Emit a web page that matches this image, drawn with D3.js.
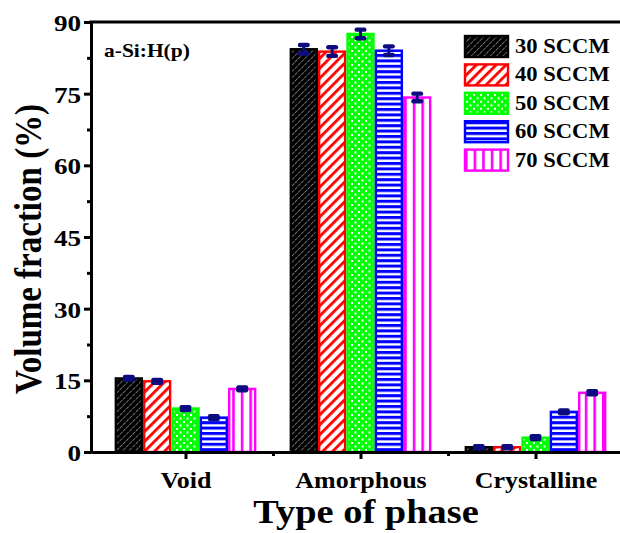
<!DOCTYPE html>
<html>
<head>
<meta charset="utf-8">
<script src="https://cdn.jsdelivr.net/npm/d3@7"></script>
<style>
  html, body { margin: 0; padding: 0; background: #fff; }
  svg { display: block; }
  text { font-family: "Liberation Serif", "Times New Roman", serif; font-weight: bold; fill: #000; }
</style>
</head>
<body>
<svg id="chart" width="620" height="533"></svg>
<script>
// Phase volume fractions of a-Si:H(p) films at several gas flow rates
const phases = ["Void", "Amorphous", "Crystalline"];
const flows = ["30 SCCM", "40 SCCM", "50 SCCM", "60 SCCM", "70 SCCM"];
const flow30 = [15.4, 84.3, 1.0];
const flow40 = [14.8, 83.8, 1.0];
const flow50 = [9.1, 87.5, 3.0];
const flow60 = [7.2, 84.0, 8.4];
const flow70 = [13.2, 74.2, 12.4];
const err30 = [0.3, 0.9, 0.2];
const err40 = [0.3, 0.9, 0.2];
const err50 = [0.3, 0.9, 0.3];
const err60 = [0.3, 0.9, 0.3];
const err70 = [0.3, 0.8, 0.3];
const yTicks = [0, 15, 30, 45, 60, 75, 90];
const yMinorTicks = [7.5, 22.5, 37.5, 52.5, 67.5, 82.5];
const xMinorTicks = [1.5, 2.5];

const seriesValues = [flow30, flow40, flow50, flow60, flow70];
const seriesErrors = [err30, err40, err50, err60, err70];
const seriesColors = ["#000000", "#ff0000", "#00ff00", "#0000ff", "#ff00ff"];
const patternIds = ["pat30", "pat40", "pat50", "pat60", "pat70"];

const SX = 1.13; // horizontal stretch of the lettering
const svg = d3.select("#chart");

const margin = { left: 91, top: 22, bottom: 452 };
const x = d3.scaleLinear().domain([0.46, 3.5]).range([91, 623]);
const y = d3.scaleLinear().domain([0, 90]).range([452, 22]);

// ---- fill patterns ----
const defs = svg.append("defs");
// 30: black with thin white diagonals
let p = defs.append("pattern").attr("id", "pat30").attr("patternUnits", "userSpaceOnUse")
  .attr("width", 4.5).attr("height", 4.5).attr("patternTransform", "rotate(45)");
p.append("rect").attr("width", 4.5).attr("height", 4.5).attr("fill", "#000");
p.append("line").attr("x1", 0).attr("y1", 0).attr("x2", 0).attr("y2", 4.5)
  .attr("stroke", "#d8d8d8").attr("stroke-width", 1).attr("stroke-dasharray", "2,1");
// 40: white with thick red diagonals
p = defs.append("pattern").attr("id", "pat40").attr("patternUnits", "userSpaceOnUse")
  .attr("width", 7).attr("height", 7).attr("patternTransform", "rotate(45)");
p.append("rect").attr("width", 7).attr("height", 7).attr("fill", "#fff");
p.append("rect").attr("x", 0).attr("y", 0).attr("width", 2.8).attr("height", 7).attr("fill", "#ff0000");
// 50: green with white dots
p = defs.append("pattern").attr("id", "pat50").attr("patternUnits", "userSpaceOnUse")
  .attr("width", 7).attr("height", 7);
p.append("rect").attr("width", 7).attr("height", 7).attr("fill", "#00ff00");
p.append("rect").attr("x", 1).attr("y", 1).attr("width", 2).attr("height", 2).attr("fill", "#fff");
p.append("rect").attr("x", 4.5).attr("y", 4.5).attr("width", 2).attr("height", 2).attr("fill", "#fff");
// 60: white with blue horizontal lines
p = defs.append("pattern").attr("id", "pat60").attr("patternUnits", "userSpaceOnUse")
  .attr("width", 10).attr("height", 5.4);
p.append("rect").attr("width", 10).attr("height", 5.4).attr("fill", "#fff");
p.append("rect").attr("x", 0).attr("y", 0).attr("width", 10).attr("height", 3).attr("fill", "#0000ff");
// 70: white with magenta vertical lines
p = defs.append("pattern").attr("id", "pat70").attr("patternUnits", "userSpaceOnUse")
  .attr("width", 8.6).attr("height", 10);
p.append("rect").attr("width", 8.6).attr("height", 10).attr("fill", "#fff");
p.append("rect").attr("x", 0).attr("y", 0).attr("width", 2.6).attr("height", 10).attr("fill", "#ff00ff");

// ---- bars ----
const groupWidth = 0.81;
const xs = d3.scaleBand().domain(flows).range([-groupWidth / 2, groupWidth / 2]).padding(0);
const barW = x(xs.bandwidth()) - x(0);

const rows = [];
seriesValues.forEach((vals, si) => {
  vals.forEach((v, ci) => {
    rows.push({ si, ci, v, e: seriesErrors[si][ci] });
  });
});

const bars = svg.append("g");
bars.selectAll("rect").data(rows).join("rect")
  .attr("x", d => x(d.ci + 1 + xs(flows[d.si])) + 1.2)
  .attr("y", d => y(d.v))
  .attr("width", barW - 2.4)
  .attr("height", d => y(0) - y(d.v))
  .attr("fill", d => `url(#${patternIds[d.si]})`)
  .attr("stroke", d => seriesColors[d.si])
  .attr("stroke-width", 2.4);

// ---- error bars ----
const navy = "#0c0c80";
const eb = svg.append("g");
const cx = d => x(d.ci + 1 + xs(flows[d.si])) + barW / 2;
eb.selectAll("line").data(rows).join("line")
  .attr("x1", cx).attr("x2", cx)
  .attr("y1", d => y(d.v + d.e)).attr("y2", d => y(d.v - d.e))
  .attr("stroke", navy).attr("stroke-width", 3);
eb.selectAll("rect.capTop").data(rows).join("rect").attr("class", "capTop")
  .attr("x", d => cx(d) - 6).attr("y", d => y(d.v + d.e) - 2.2)
  .attr("width", 12).attr("height", 4.4).attr("rx", 2.2)
  .attr("fill", navy);
eb.selectAll("rect.capBot").data(rows).join("rect").attr("class", "capBot")
  .attr("x", d => cx(d) - 6).attr("y", d => y(d.v - d.e) - 2.2)
  .attr("width", 12).attr("height", 4.4).attr("rx", 2.2)
  .attr("fill", navy);

// ---- axes ----
const yAxis = svg.append("g").attr("transform", `translate(${x(0.46)},0)`)
  .call(d3.axisLeft(y).tickValues(yTicks).tickSize(7).tickSizeOuter(0).tickFormat(d3.format("d")));
svg.append("g").attr("transform", `translate(${x(0.46)},0)`)
  .call(d3.axisLeft(y).tickValues(yMinorTicks).tickSize(4).tickSizeOuter(0).tickFormat(""));
yAxis.selectAll("text")
  .attr("x", 0).attr("dy", "0.35em")
  .attr("transform", `translate(-10,0) scale(${SX},1)`)
  .style("font-size", "24px");

const xAxis = svg.append("g").attr("transform", `translate(0,${y(0)})`)
  .call(d3.axisBottom(x).tickValues([1, 2, 3]).tickSize(7).tickSizeOuter(0)
    .tickFormat(d => phases[d - 1]));
svg.append("g").attr("transform", `translate(0,${y(0)})`)
  .call(d3.axisBottom(x).tickValues(xMinorTicks).tickSize(4).tickSizeOuter(0).tickFormat(""));
xAxis.selectAll("text")
  .attr("y", 0).attr("dy", 0)
  .attr("transform", `translate(0,36) scale(${SX},1)`)
  .style("font-size", "23px");

svg.selectAll(".domain").attr("stroke", "#000").attr("stroke-width", 3);
svg.selectAll(".tick line").attr("stroke", "#000").attr("stroke-width", 3);
svg.selectAll(".tick text").attr("fill", "#000").style("font-family", "'Liberation Serif', serif").style("font-weight", "bold");

// top frame line
svg.append("line")
  .attr("x1", x(0.46) - 1.5).attr("x2", 620)
  .attr("y1", y(90)).attr("y2", y(90))
  .attr("stroke", "#000").attr("stroke-width", 3);

// ---- titles ----
svg.append("text")
  .attr("transform", `translate(41,249) scale(${SX},1) rotate(-90)`)
  .attr("text-anchor", "middle")
  .style("font-size", "33px")
  .text("Volume fraction (%)");

svg.append("text")
  .attr("transform", `translate(366,523) scale(${SX},1)`)
  .attr("text-anchor", "middle")
  .style("font-size", "34px")
  .text("Type of phase");

svg.append("text")
  .attr("transform", `translate(104,57) scale(${SX},1)`)
  .style("font-size", "19px")
  .text("a-Si:H(p)");

// ---- legend ----
const legend = svg.append("g");
const ly = d3.scaleBand().domain(flows).range([36, 178]).padding(0);
const items = legend.selectAll("g").data(flows).join("g")
  .attr("transform", d => `translate(465,${ly(d)})`);
items.append("rect")
  .attr("x", 0).attr("y", 0).attr("width", 43).attr("height", 21)
  .attr("fill", (d, i) => `url(#${patternIds[i]})`)
  .attr("stroke", (d, i) => seriesColors[i])
  .attr("stroke-width", 2.4);
items.append("text")
  .attr("transform", `translate(50,17) scale(${SX},1)`)
  .style("font-size", "20px")
  .text(d => d);
</script>
</body>
</html>
